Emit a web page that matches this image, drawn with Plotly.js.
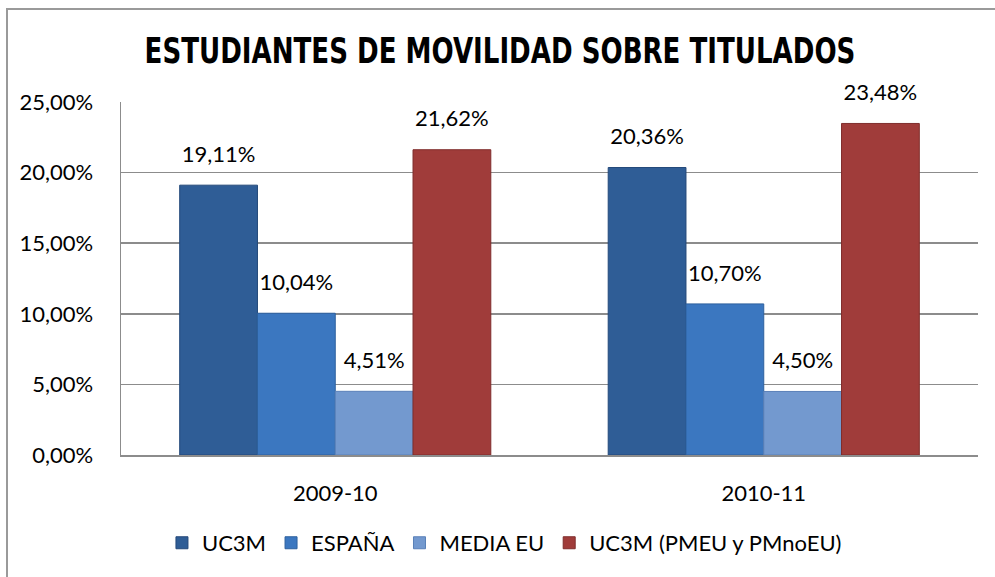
<!DOCTYPE html>
<html>
<head>
<meta charset="utf-8">
<script src="https://cdn.plot.ly/plotly-3.0.1.min.js"></script>
<style>
  html, body { margin: 0; padding: 0; background: #fff; overflow: hidden; }
  #chart { position: absolute; left: 0; top: 0; width: 995px; height: 577px; }
  #frame { position: absolute; left: 6px; top: 8px; width: 1200px; height: 800px;
           border-left: 2px solid #9a9a9a; border-top: 2px solid #9a9a9a; pointer-events: none; }
</style>
</head>
<body>
<div id="chart"></div>
<div id="frame"></div>
<script>
// ---- data ----
const categories = ['2009-10', '2010-11'];
const seriesNames = ['UC3M', 'ESPAÑA', 'MEDIA EU', 'UC3M (PMEU y PMnoEU)'];
const uc3m      = [0.1911, 0.2036];
const espana    = [0.1004, 0.1070];
const mediaEU   = [0.0451, 0.0450];
const uc3mPM    = [0.2162, 0.2348];
const yTicks    = [0, 0.05, 0.10, 0.15, 0.20, 0.25];

// ---- styles ----
const colors = ['#2f5d96', '#3b77c0', '#7399cf', '#a03c3a'];
const edge   = ['#24497a', '#2e609e', '#5a80b8', '#7f2d2c'];
const values = [uc3m, espana, mediaEU, uc3mPM];
const FONT = 'Lato, "Open Sans", sans-serif';
const GAP = 0.274;

const traces = [];
values.forEach((v, i) => {
  traces.push({
    type: 'bar', name: seriesNames[i], x: categories, y: v,
    marker: { color: colors[i], line: { color: edge[i], width: 1 } },
    hoverinfo: 'skip'
  });
});
values.forEach((v, i) => {
  traces.push({
    type: 'scatter', mode: 'markers+text', x: categories, y: v,
    showlegend: false, hoverinfo: 'skip', cliponaxis: false,
    marker: { size: 27, opacity: 0, color: colors[i] },
    texttemplate: '%{y:.2%}', textposition: 'top center',
    textfont: { family: FONT, size: 22, color: '#000' }
  });
});

const layout = {
  width: 995, height: 577,
  paper_bgcolor: 'rgba(0,0,0,0)', plot_bgcolor: 'rgba(0,0,0,0)',
  separators: ',.',
  margin: { l: 121, r: 17, t: 102, b: 122 },
  barmode: 'group', bargap: GAP, bargroupgap: 0,
  scattermode: 'group', scattergap: GAP,
  title: {
    text: '<b>ESTUDIANTES DE MOVILIDAD SOBRE TITULADOS</b>',
    font: { family: '"DejaVu Sans Condensed", "Liberation Sans Narrow", sans-serif', size: 29, color: '#000' },
    xref: 'container', x: 0.5025, xanchor: 'center',
    yref: 'container', y: 0.912, yanchor: 'middle'
  },
  xaxis: {
    type: 'category', showgrid: false, zeroline: false,
    showline: true, linecolor: '#8c8c8c', linewidth: 1.5,
    ticks: '', ticklabelstandoff: 18,
    tickfont: { family: FONT, size: 22, color: '#000' }
  },
  yaxis: {
    range: [0, 0.25], tickvals: yTicks, tickformat: '.2%',
    showgrid: true, gridcolor: '#8c8c8c', gridwidth: 1.5,
    zeroline: false, showline: true, linecolor: '#8c8c8c', linewidth: 1.5,
    ticks: '', ticklabelstandoff: 22,
    tickfont: { family: FONT, size: 22, color: '#000' }
  },
  showlegend: true,
  legend: {
    orientation: 'h', xref: 'container', x: 0.507, xanchor: 'center',
    yref: 'container', y: 0.059, yanchor: 'middle',
    font: { family: FONT, size: 22, color: '#000' },
    bgcolor: 'rgba(0,0,0,0)'
  }
};

Plotly.newPlot('chart', traces, layout, { displayModeBar: false, staticPlot: true }).then(gd => {
  // stretch the title vertically to mimic the tall condensed face of the original
  const t = gd.querySelector('.gtitle');
  if (t) {
    const bb = t.getBBox();
    const cy = bb.y + bb.height / 2;
    t.setAttribute('transform', `translate(0,${cy}) scale(1,1.25) translate(0,${-cy})`);
  }
});
</script>
</body>
</html>
